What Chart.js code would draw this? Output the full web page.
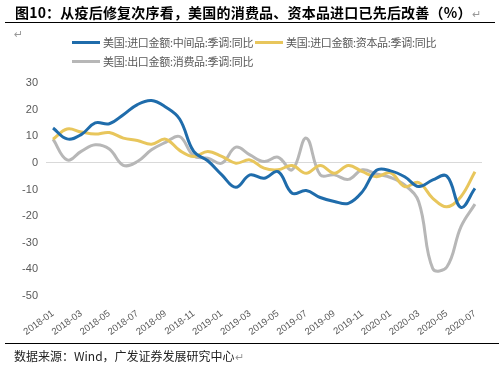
<!DOCTYPE html>
<html>
<head>
<meta charset="utf-8">
<script src="https://cdn.jsdelivr.net/npm/chart.js@4.4.0/dist/chart.umd.min.js"></script>
<style>
  html, body { margin: 0; padding: 0; background: #fff; }
  #wrap { position: relative; width: 499px; height: 369px; overflow: hidden; }
  #c { position: absolute; left: 0; top: 0; }
  .title { position: absolute; left: 15px; top: 2px; font-family: "Noto Sans CJK SC", sans-serif; font-weight: bold; font-size: 14px; color: #000; white-space: nowrap; letter-spacing: 0.2px; }
  .mark { color: #999; font-weight: normal; font-size: 11px; }
  .line { position: absolute; height: 0; border-top: 1.5px solid #000; }
  .foot { position: absolute; left: 14px; top: 347px; font-family: "Noto Sans CJK SC", sans-serif; font-size: 12px; color: #222; white-space: nowrap; }
  .pm { position: absolute; left: 14px; top: 28px; font-size: 11px; color: #999; font-family: "DejaVu Sans", sans-serif; }
  .leg { position: absolute; font-family: "Noto Sans CJK SC", sans-serif; font-size: 11px; letter-spacing: -0.3px; color: #595959; white-space: nowrap; display: flex; align-items: center; }
  .sw { display: inline-block; width: 28px; height: 3px; margin-right: 3px; }
</style>
</head>
<body>
<div id="wrap">
  <canvas id="c" width="499" height="369"></canvas>
  <div class="title">图10：从疫后修复次序看，美国的消费品、资本品进口已先后改善（%）<span class="mark">↵</span></div>
  <div class="line" style="left:5px; top:22px; width:490px;"></div>
  <div class="pm">↵</div>
  <div id="legend"></div>
  <div class="line" style="left:5px; top:343px; width:494px;"></div>
  <div class="foot">数据来源：Wind，广发证券发展研究中心<span class="mark">↵</span></div>
</div>
<script>
const categories = ["2018-01","2018-02","2018-03","2018-04","2018-05","2018-06","2018-07","2018-08","2018-09","2018-10","2018-11","2018-12",
  "2019-01","2019-02","2019-03","2019-04","2019-05","2019-06","2019-07","2019-08","2019-09","2019-10","2019-11","2019-12",
  "2020-01","2020-02","2020-03","2020-04","2020-05","2020-06","2020-07"];

const seriesNames = ["美国:进口金额:中间品:季调:同比", "美国:进口金额:资本品:季调:同比", "美国:出口金额:消费品:季调:同比"];

const intermediateImports = [13.1, 9.0, 10.6, 15.0, 14.7, 18.1, 21.9, 23.4, 21.0, 16.5, 4.3, 0.8,
  -4.5, -9.2, -4.5, -5.8, -3.3, -11.4, -10.4, -13.0, -14.5, -15.2, -10.8, -2.8,
  -3.0, -5.2, -8.9, -6.4, -5.0, -16.7, -9.6];

const capitalImports = [8.9, 12.7, 11.6, 10.8, 11.4, 9.3, 8.4, 7.0, 8.9, 4.7, 2.4, 4.3,
  2.4, -0.1, 1.1, -2.0, -2.6, -1.0, -3.9, -1.0, -3.9, -1.0, -3.3, -5.2,
  -3.7, -8.9, -7.4, -13.3, -16.5, -12.7, -3.3];

const consumerExports = [8.9, 1.1, 4.3, 6.8, 5.2, -0.9, 0.5, 4.9, 7.7, 9.9, 2.6, 1.8,
  -0.1, 5.9, 3.0, 0.5, 2.1, -2.6, 9.3, -4.5, -4.5, -6.2, -2.6, -4.2,
  -5.5, -8.3, -14.6, -39.7, -39.1, -24.0, -15.5];

const yTicks = [30, 20, 10, 0, -10, -20, -30, -40, -50];

const colors = ["#1f6cab", "#e8c65c", "#b7b7b7"];

// HTML legend
const legendPos = [[72, 34], [255, 34], [72, 53]];
const legendEl = document.getElementById('legend');
seriesNames.forEach((n, i) => {
  const d = document.createElement('div');
  d.className = 'leg';
  d.style.left = legendPos[i][0] + 'px';
  d.style.top = legendPos[i][1] + 'px';
  d.innerHTML = '<span class="sw" style="background:' + colors[i] + '"></span>' + n;
  legendEl.appendChild(d);
});

const mk = (label, data, color) => ({
  label, data, borderColor: color, backgroundColor: color,
  borderWidth: 3, pointRadius: 0, tension: 0.4, fill: false
});

new Chart(document.getElementById('c'), {
  type: 'line',
  data: {
    labels: categories,
    datasets: [
      mk(seriesNames[0], intermediateImports, colors[0]),
      mk(seriesNames[1], capitalImports, colors[1]),
      mk(seriesNames[2], consumerExports, colors[2])
    ]
  },
  options: {
    responsive: false,
    animation: false,
    devicePixelRatio: 1,
    layout: { padding: { top: 83, bottom: 33, left: 0, right: 17 } },
    plugins: { legend: { display: false }, tooltip: { enabled: false } },
    scales: {
      x: {
        offset: true,
        afterFit: (axis) => { axis.height = 40; axis.paddingLeft = 0; axis.paddingRight = 0; },
        grid: { display: false, drawTicks: false },
        border: { display: false },
        ticks: {
          autoSkip: false, maxRotation: 36, minRotation: 36, padding: 12,
          color: '#595959', font: { family: 'Liberation Sans', size: 9.5 },
          callback: function(v, i) { return i % 2 === 0 ? categories[i] : ''; }
        }
      },
      y: {
        min: -50, max: 30,
        afterFit: (axis) => { axis.width = 46; },
        afterBuildTicks: (axis) => { axis.ticks = yTicks.map(v => ({ value: v })); },
        grid: { drawTicks: false, color: (ctx) => ctx.tick && ctx.tick.value === 0 ? '#d9d9d9' : 'rgba(0,0,0,0)', lineWidth: 1 },
        border: { display: false },
        ticks: { autoSkip: false, padding: 8, color: '#595959', font: { family: 'Liberation Sans', size: 11 } }
      }
    }
  }
});
</script>
</body>
</html>
